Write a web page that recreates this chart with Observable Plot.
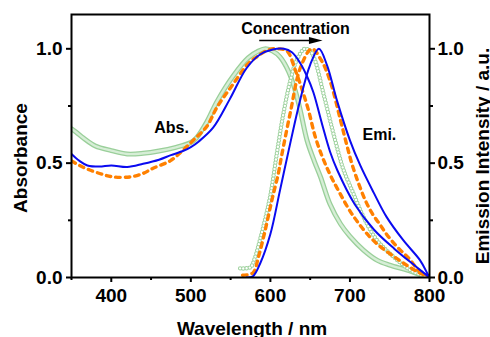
<!DOCTYPE html>
<html><head><meta charset="utf-8">
<script src="https://cdn.jsdelivr.net/npm/d3@7"></script>
<script src="https://cdn.jsdelivr.net/npm/@observablehq/plot@0.6"></script>
<style>
body{margin:0;background:#fff;}
svg{font-family:"Liberation Sans",Arial,sans-serif;}
</style>
</head><body><div id="chart"></div>
<script>
// Absorption spectra (wavelength nm, normalized absorbance)
const greenAbsWl  = [350,356,365,380,400,420,440,460,480,500,507,520,533,553,572,585,594,603,612,623,631,637,646,655,663,675,688,700,717,734,750,772,790,800];
const greenAbsVal = [0.65,0.635,0.61,0.575,0.555,0.54,0.543,0.553,0.568,0.59,0.61,0.68,0.77,0.88,0.96,0.99,1.0,0.99,0.965,0.9,0.82,0.74,0.6,0.51,0.44,0.32,0.235,0.18,0.12,0.076,0.054,0.032,0.01,0.0];
const orangeAbsWl  = [350,360,373,390,402,424,440,452,474,490,503,520,533,553,572,583,597,610,621,631,640,648,656,665,675,684,704,730,760,785,800];
const orangeAbsVal = [0.51,0.49,0.47,0.45,0.44,0.44,0.455,0.477,0.51,0.556,0.6,0.66,0.745,0.845,0.935,0.965,0.995,1.0,0.99,0.91,0.82,0.73,0.62,0.53,0.45,0.39,0.27,0.16,0.08,0.025,0];
const blueAbsWl  = [350,360,370,385,400,420,440,460,475,490,500,510,528,549,570,587,603,617,627,637,646,654,665,675,684,706,730,756,784,800];
const blueAbsVal = [0.54,0.51,0.49,0.485,0.49,0.483,0.497,0.515,0.535,0.553,0.57,0.595,0.655,0.78,0.915,0.975,0.997,1.0,0.985,0.94,0.88,0.81,0.67,0.55,0.47,0.32,0.21,0.125,0.045,0];

// Emission spectra (wavelength nm, normalized intensity)
const greenEmiWl  = [562,575,580,585,591,600,608,616,625,633,643,650,656,667,677,686,692,704,717,734,755,776,790,800];
const greenEmiVal = [0.04,0.045,0.08,0.14,0.22,0.36,0.54,0.71,0.86,0.95,1.0,0.99,0.95,0.8,0.66,0.54,0.47,0.37,0.265,0.163,0.09,0.032,0.01,0];
const orangeEmiWl  = [565,578,585,593,602,610,614,625,638,652,664,675,688,696,704,719,728,738,748,761,774,786,797,800];
const orangeEmiVal = [0.01,0.02,0.09,0.2,0.34,0.455,0.53,0.72,0.92,1.0,0.95,0.86,0.69,0.58,0.48,0.34,0.28,0.23,0.18,0.128,0.084,0.032,0.01,0.005];
const blueEmiWl  = [570,578,587,600,612,623,637,650,661,671,684,700,713,730,746,767,788,797,800];
const blueEmiVal = [0,0.005,0.06,0.19,0.38,0.556,0.77,0.93,1.0,0.93,0.77,0.6,0.49,0.37,0.265,0.163,0.076,0.02,0];

// Ticks
const xTicks = [400,500,600,700,800];
const xMinor = [350,450,550,650,750];
const yTicks = [0,0.5,1.0];
const yMinor = [0.25,0.75];

const rows = (wl, val) => wl.map((w, i) => ({wl: w, v: val[i]}));
const greenAbs = rows(greenAbsWl, greenAbsVal);
const orangeAbs = rows(orangeAbsWl, orangeAbsVal);
const blueAbs = rows(blueAbsWl, blueAbsVal);
const greenEmi = rows(greenEmiWl, greenEmiVal);
const orangeEmi = rows(orangeEmiWl, orangeEmiVal);
const blueEmi = rows(blueEmiWl, blueEmiVal);

const curve = "catmull-rom";
const base = {x: "wl", y: "v", curve, clip: true};
const ring = {strokeDasharray: "0 3.2", strokeLinecap: "round"};
const orangeStyle = {stroke: "#ff8000", strokeWidth: 3.4, strokeDasharray: "4.5 5"};
const blueStyle = {stroke: "#0a0af0", strokeWidth: 2};
const fmt = d3.format(".1f");
const bold = {fontSize: 19, fontWeight: "bold"};

const arrowHead = {draw(ctx, size) {
  const s = Math.sqrt(size);
  ctx.moveTo(s * 0.7, 0);
  ctx.lineTo(-s * 0.7, -s * 0.36);
  ctx.lineTo(-s * 0.7, s * 0.36);
  ctx.closePath();
}};

const chart = Plot.plot({
  width: 490, height: 337,
  marginLeft: 71, marginRight: 61, marginTop: 14, marginBottom: 60,
  x: {domain: [350, 800]},
  y: {domain: [0, 1.15]},
  style: {fontFamily: "Liberation Sans, Arial, sans-serif", background: "white", color: "black", overflow: "visible"},
  marks: [
    Plot.line(greenAbs, {...base, stroke: "#9acf9a", strokeWidth: 5}),
    Plot.line(greenAbs, {...base, stroke: "#d6eed6", strokeWidth: 2.4}),
    Plot.line(greenEmi, {...base, ...ring, stroke: "#9dd19d", strokeWidth: 4.4}),
    Plot.line(greenEmi, {...base, ...ring, stroke: "white", strokeWidth: 2.4}),
    Plot.line(orangeAbs, {...base, ...orangeStyle}),
    Plot.line(orangeEmi, {...base, ...orangeStyle}),
    Plot.line(blueAbs, {...base, ...blueStyle}),
    Plot.line(blueEmi, {...base, ...blueStyle}),
    Plot.frame({strokeWidth: 2}),
    Plot.axisX({ticks: xTicks, tickSize: 5, tickPadding: 6, strokeWidth: 2, tickFormat: d => String(d), label: null, ...bold}),
    Plot.axisX({ticks: xMinor, tickSize: 3, strokeWidth: 2, tickFormat: () => "", label: null}),
    Plot.axisY({ticks: yTicks, tickSize: 5, tickPadding: 4, strokeWidth: 2, tickFormat: fmt, label: null, ...bold}),
    Plot.axisY({ticks: yMinor, tickSize: 3, strokeWidth: 2, tickFormat: () => "", label: null}),
    Plot.axisY({anchor: "right", ticks: yTicks, tickSize: 5, tickPadding: 3, strokeWidth: 2, tickFormat: fmt, label: null, ...bold}),
    Plot.axisY({anchor: "right", ticks: yMinor, tickSize: 3, strokeWidth: 2, tickFormat: () => "", label: null}),
    Plot.text(["Absorbance"], {frameAnchor: "left", textAnchor: "middle", dx: -51, dy: 12, rotate: -90, ...bold}),
    Plot.text(["Emission Intensity / a.u."], {frameAnchor: "right", textAnchor: "middle", dx: 53, dy: 10, rotate: -90, ...bold}),
    Plot.text(["Wavelength / nm"], {frameAnchor: "bottom", lineAnchor: "top", dy: 44, dx: 1.5, ...bold}),
    Plot.text(["Concentration"], {x: 631.6, y: 1.087, fontSize: 16, fontWeight: "bold"}),
    Plot.link([0], {x1: 586, x2: 654, y1: 1.036, y2: 1.036, stroke: "black", strokeWidth: 1.6}),
    Plot.dot([0], {x: 657, y: 1.036, r: 5.5, symbol: arrowHead, fill: "black", stroke: "none"}),
    Plot.text(["Abs."], {x: 475.7, y: 0.656, fontSize: 16, fontWeight: "bold"}),
    Plot.text(["Emi."], {x: 737, y: 0.622, fontSize: 16, fontWeight: "bold"})
  ]
});
document.getElementById("chart").appendChild(chart);
</script>
</body></html>
